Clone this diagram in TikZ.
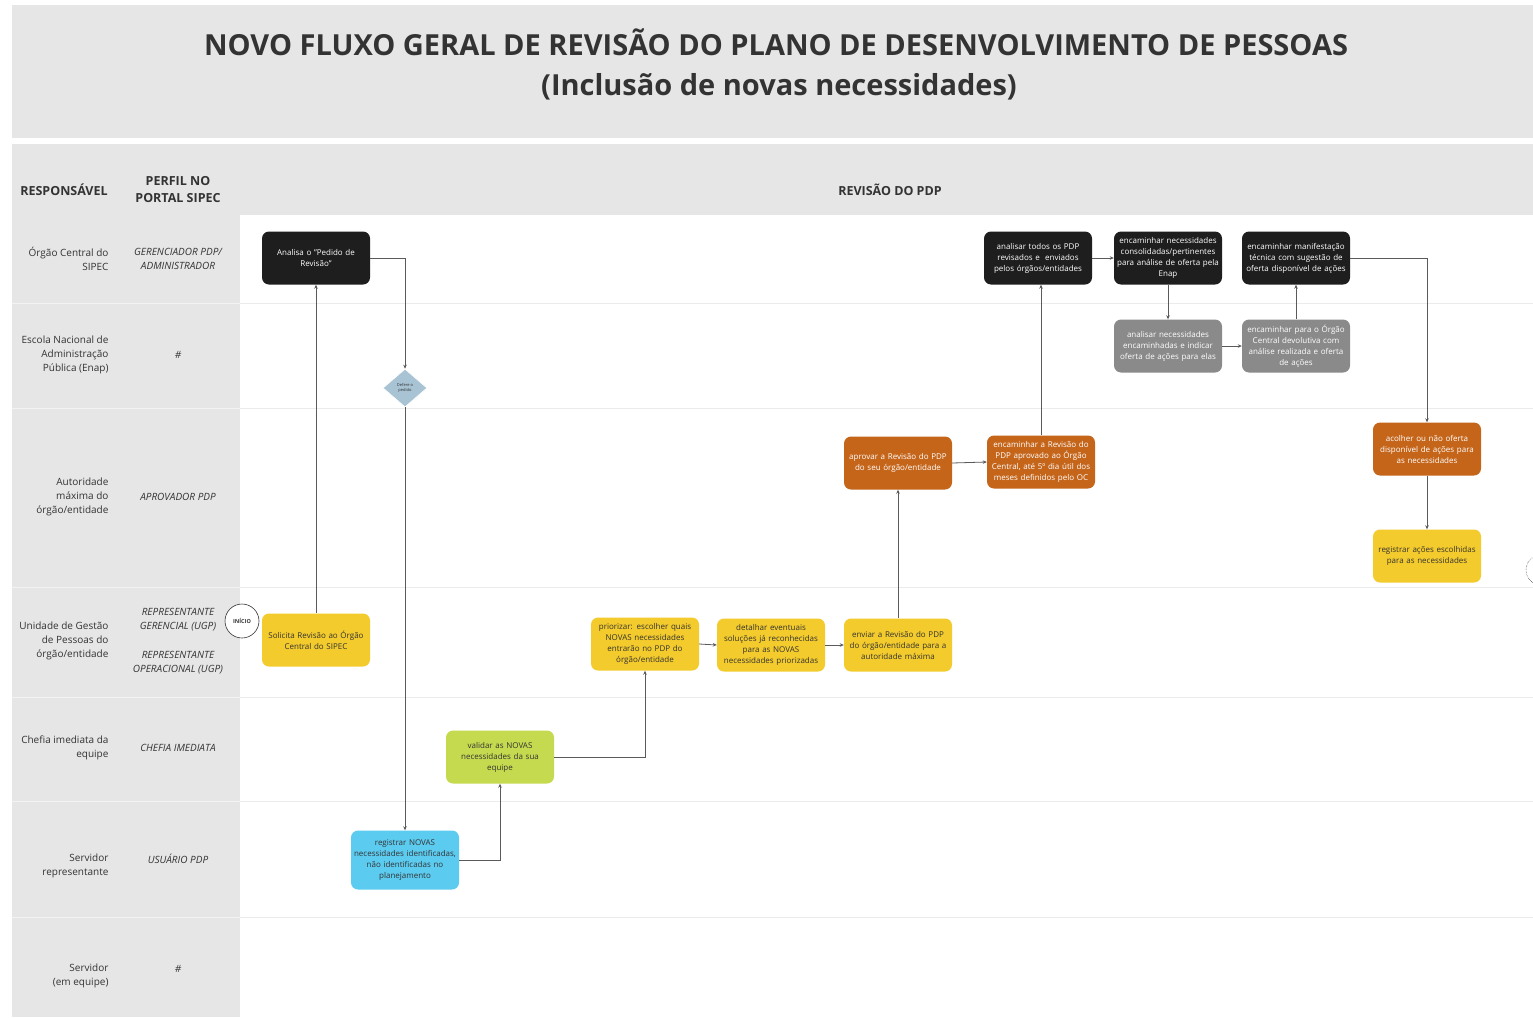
\documentclass[tikz,border=0pt]{standalone}
\usepackage{fontspec}
\setmainfont{Open Sans}
\usetikzlibrary{arrows.meta,shapes.geometric}
\definecolor{bggray}{HTML}{E6E6E6}
\definecolor{laneline}{HTML}{EBEBEB}
\definecolor{nblack}{HTML}{1E1E1E}
\definecolor{nyellow}{HTML}{F4CB2C}
\definecolor{norange}{HTML}{C4651A}
\definecolor{ngray}{HTML}{8A8A8A}
\definecolor{ncyan}{HTML}{5CCBF0}
\definecolor{nlime}{HTML}{C6DA4F}
\definecolor{ndia}{HTML}{A8C3D3}
\definecolor{conn}{HTML}{5A5A5A}
\definecolor{txtdark}{HTML}{333333}
\begin{document}
\begin{tikzpicture}[x=1pt,y=-1pt,
  box/.style={rounded corners=7pt, minimum width=108pt, minimum height=53pt, align=center, text width=106pt, font=\fontsize{8}{11}\selectfont, inner sep=1pt},
  bbox/.style={box, fill=nblack, text=white},
  ybox/.style={box, fill=nyellow, text=txtdark},
  obox/.style={box, fill=norange, text=white},
  gbox/.style={box, fill=ngray, text=white},
  cbox/.style={box, fill=ncyan, text=txtdark},
  lbox/.style={box, fill=nlime, text=txtdark},
  resp/.style={align=right, anchor=east, font=\fontsize{10}{14}\selectfont, text=txtdark},
  perf/.style={align=center, font=\fontsize{10}{14}\selectfont\itshape, text=txtdark},
  hdr/.style={align=center, font=\fontsize{12.5}{17}\selectfont\bfseries, text=txtdark},
  link/.style={draw=conn, line width=0.8pt, -{Stealth[length=4pt,width=3.5pt]}}
]
\useasboundingbox (0,0) rectangle (1533,1017);
\fill[white] (0,0) rectangle (1533,1017);
% title band
\fill[bggray] (12,5) rectangle (1533,138);
\node[font=\fontsize{29}{34}\selectfont\bfseries, text=txtdark] (t1) at (776,42) {NOVO FLUXO GERAL DE REVISÃO DO PLANO DE DESENVOLVIMENTO DE PESSOAS};
\node[font=\fontsize{29}{34}\selectfont\bfseries, text=txtdark] (t2) at (779,87) {(Inclusão de novas necessidades)};
% table header and left columns
\fill[bggray] (12,144) rectangle (1533,215);
\fill[bggray] (12,215) rectangle (240,1017);
\foreach \yy in {303,408,587,697,801,917} {
  \draw[laneline, line width=1pt] (240,\yy) -- (1533,\yy);
  \draw[white!50!bggray, line width=0.6pt] (12,\yy) -- (240,\yy);
}
\node[hdr] (hresp) at (64,190) {RESPONSÁVEL};
\node[hdr] (hperf) at (178,190) {PERFIL NO\\PORTAL SIPEC};
\node[hdr] (hrev) at (890,190) {REVISÃO DO PDP};
% lane labels
\node[resp] (r1) at (112,259) {Órgão Central do\\SIPEC};
\node[resp] (r2) at (112,355) {Escola Nacional de\\Administração\\Pública (Enap)};
\node[resp] (r3) at (112,497) {Autoridade\\máxima do\\órgão/entidade};
\node[resp] (r4) at (112,641) {Unidade de Gestão\\de Pessoas do\\órgão/entidade};
\node[resp] (r5) at (112,748) {Chefia imediata da\\equipe};
\node[resp] (r6) at (112,866) {Servidor\\representante};
\node[resp] (r7) at (112,976) {Servidor\\(em equipe)};
\node[perf] (p1) at (178,259) {GERENCIADOR PDP/\\ADMINISTRADOR};
\node[perf] (p2) at (178,355) {\#};
\node[perf] (p3) at (178,497) {APROVADOR PDP};
\node[perf] (p4a) at (178,620) {REPRESENTANTE\\GERENCIAL (UGP)};
\node[perf] (p4b) at (178,663) {REPRESENTANTE\\OPERACIONAL (UGP)};
\node[perf] (p5) at (178,748) {CHEFIA IMEDIATA};
\node[perf] (p6) at (178,859) {USUÁRIO PDP};
\node[perf] (p7) at (178,969) {\#};
% nodes
\node[bbox] (an) at (316,258) {Analisa o "Pedido de\\Revisão"};
\node[diamond, fill=ndia, draw=white, line width=0.6pt, minimum width=44pt, minimum height=38pt, inner sep=0pt, align=center, font=\fontsize{4}{5}\selectfont, text=txtdark] (dia) at (405,388) {Defere o\\pedido};
\node[circle, draw=txtdark, fill=white, line width=0.6pt, minimum size=34pt, inner sep=0pt, font=\fontsize{5.5}{6}\selectfont\bfseries, text=txtdark] (ini) at (242,621) {INÍCIO};
\node[ybox] (sol) at (316,640) {Solicita Revisão ao Órgão\\Central do SIPEC};
\node[cbox, minimum height=59pt] (reg) at (405,860) {registrar NOVAS\\necessidades identificadas,\\não identificadas no\\planejamento};
\node[lbox] (val) at (500,757) {validar as NOVAS\\necessidades da sua\\equipe};
\node[ybox] (pri) at (645,644) {priorizar: escolher quais\\NOVAS necessidades\\entrarão no PDP do\\órgão/entidade};
\node[ybox] (det) at (771,645) {detalhar eventuais\\soluções já reconhecidas\\para as NOVAS\\necessidades priorizadas};
\node[ybox] (env) at (898,645) {enviar a Revisão do PDP\\do órgão/entidade para a\\autoridade máxima};
\node[obox] (apr) at (898,463) {aprovar a Revisão do PDP\\do seu órgão/entidade};
\node[obox] (encR) at (1041,462) {encaminhar a Revisão do\\PDP aprovado ao Órgão\\Central, até 5º dia útil dos\\meses definidos pelo OC};
\node[bbox] (ant) at (1038,258) {analisar todos os PDP\\revisados e\ \ enviados\\pelos órgãos/entidades};
\node[bbox] (encN) at (1168,258) {encaminhar necessidades\\consolidadas/pertinentes\\para análise de oferta pela\\Enap};
\node[bbox] (encM) at (1296,258) {encaminhar manifestação\\técnica com sugestão de\\oferta disponível de ações};
\node[gbox] (anN) at (1168,346) {analisar necessidades\\encaminhadas e indicar\\oferta de ações para elas};
\node[gbox] (encO) at (1296,346) {encaminhar para o Órgão\\Central devolutiva com\\análise realizada e oferta\\de ações};
\node[obox] (aco) at (1427,449) {acolher ou não oferta\\disponível de ações para\\as necessidades};
\node[ybox] (regA) at (1427,556) {registrar ações escolhidas\\para as necessidades};
\node[circle, draw=txtdark, densely dotted, fill=white, line width=0.5pt, minimum size=30pt, inner sep=0pt] (fim) at (1541,570) {};
% connectors
\draw[link] (sol.north) -- (an.south);
\draw[link] (an.east) -| (dia.north);
\draw[link] (dia.south) -- (reg.north);
\draw[link] (reg.east) -| (val.south);
\draw[link] (val.east) -| (pri.south);
\draw[link] (pri.east) -- (det.west);
\draw[link] (det.east) -- (env.west);
\draw[link] (env.north) -- (apr.south);
\draw[link] (apr.east) -- (encR.west);
\draw[link] (encR.north) -- (encR.north |- ant.south);
\draw[link] (ant.east) -- (encN.west);
\draw[link] (encN.south) -- (anN.north);
\draw[link] (anN.east) -- (encO.west);
\draw[link] (encO.north) -- (encM.south);
\draw[link] (encM.east) -| (aco.north);
\draw[link] (aco.south) -- (regA.north);
\end{tikzpicture}
\end{document}
